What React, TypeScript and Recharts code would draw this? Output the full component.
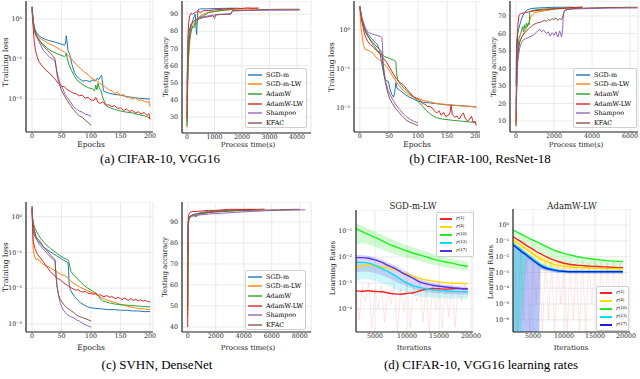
import React from 'react';
import { ComposedChart, Line, Area, XAxis, YAxis, CartesianGrid } from 'recharts';

type Pt = [number, number];

const optNames = ['SGD-m', 'SGD-m-LW', 'AdamW', 'AdamW-LW', 'Shampoo', 'KFAC'];
const optColors = ['#1f77b4', '#ff7f0e', '#2ca02c', '#d62728', '#9467bd', '#8c564b'];

// (a) CIFAR-10, VGG16 — training loss vs epoch
const a1Sgd: Pt[] = [[0,2.0],[2,0.9],[5,0.55],[8,0.45],[12,0.38],[18,0.33],[25,0.3],[32,0.28],[40,0.26],[48,0.24],[55,0.22],[57,0.25],[58,0.38],[59,0.3],[61,0.16],[64,0.13],[68,0.07],[72,0.045],[76,0.037],[80,0.032],[86,0.028],[92,0.029],[98,0.027],[103,0.03],[107,0.028],[110,0.033],[113,0.03],[116,0.037],[118,0.039],[119,0.03],[121,0.016],[125,0.015],[130,0.014],[140,0.013],[150,0.0125],[160,0.0115],[170,0.011],[180,0.0105],[190,0.0102],[200,0.01]];
const a1SgdLw: Pt[] = [[0,2.0],[2,0.8],[5,0.5],[8,0.4],[12,0.34],[18,0.3],[25,0.26],[32,0.23],[40,0.2],[48,0.17],[55,0.15],[62,0.12],[68,0.095],[75,0.072],[82,0.058],[88,0.048],[95,0.04],[100,0.034],[106,0.03],[112,0.027],[118,0.023],[124,0.02],[130,0.017],[136,0.016],[140,0.0135],[145,0.015],[150,0.012],[155,0.013],[160,0.011],[165,0.0115],[170,0.0098],[175,0.011],[180,0.0092],[185,0.0095],[190,0.0088],[195,0.0082],[198,0.009],[200,0.0065]];
const a1Adamw: Pt[] = [[0,2.0],[2,0.8],[5,0.5],[8,0.38],[12,0.3],[18,0.24],[25,0.19],[32,0.16],[40,0.14],[48,0.125],[55,0.115],[57,0.12],[58,0.14],[60,0.1],[63,0.07],[66,0.055],[70,0.042],[74,0.033],[78,0.028],[84,0.024],[90,0.021],[96,0.019],[102,0.018],[106,0.016],[108,0.022],[110,0.017],[112,0.025],[114,0.019],[117,0.016],[119,0.012],[122,0.009],[126,0.0068],[130,0.0062],[135,0.0058],[140,0.0055],[145,0.0052],[150,0.005],[160,0.0047],[170,0.0045],[180,0.0041],[190,0.0038],[195,0.0036],[200,0.0033]];
const a1AdamwLw: Pt[] = [[0,1.6],[2,0.6],[4,0.25],[6,0.16],[9,0.11],[12,0.085],[16,0.07],[20,0.06],[25,0.05],[30,0.044],[35,0.036],[40,0.03],[45,0.024],[50,0.021],[55,0.02],[60,0.017],[65,0.0155],[70,0.014],[75,0.0135],[80,0.012],[85,0.0125],[90,0.0105],[95,0.011],[100,0.0095],[105,0.0092],[108,0.011],[112,0.0082],[116,0.0078],[120,0.0085],[125,0.007],[130,0.0072],[135,0.0064],[140,0.0068],[145,0.0058],[150,0.006],[155,0.0052],[160,0.0056],[165,0.0049],[170,0.0052],[175,0.0045],[180,0.0048],[185,0.0042],[190,0.0046],[195,0.0039],[198,0.0043],[200,0.0031]];
const a1Shampoo: Pt[] = [[0,2.0],[2,0.8],[5,0.45],[8,0.35],[12,0.27],[16,0.2],[20,0.16],[25,0.13],[30,0.11],[35,0.1],[39,0.085],[42,0.05],[45,0.033],[48,0.024],[52,0.018],[56,0.013],[60,0.011],[65,0.0085],[70,0.0065],[75,0.0056],[80,0.005],[85,0.0047],[90,0.0042],[95,0.004],[100,0.0037]];
const a1Kfac: Pt[] = [[0,2.0],[2,0.8],[5,0.45],[8,0.36],[12,0.3],[18,0.22],[25,0.17],[30,0.145],[35,0.12],[39,0.1],[41,0.06],[43,0.035],[46,0.025],[50,0.016],[55,0.012],[60,0.009],[65,0.007],[70,0.0055],[75,0.0045],[80,0.0038],[85,0.0035],[90,0.003],[95,0.0026],[100,0.0022]];

// (a) testing accuracy vs process time
const a2Sgd: Pt[] = [[0,27],[20,50],[50,68],[100,78],[150,83],[200,86],[250,88],[300,90],[330,82],[350,78],[370,86],[400,92.5],[500,93],[700,93],[1000,93.2],[1300,93.3],[1600,93.4],[1900,93.4]];
const a2SgdLw: Pt[] = [[0,24],[20,45],[50,62],[100,74],[150,80],[200,83],[300,86],[400,88],[500,89],[600,90],[800,91],[1000,91.5],[1200,92],[1500,92.5],[1800,93],[2200,93.2],[2600,93.4]];
const a2Adamw: Pt[] = [[0,25],[20,50],[50,65],[100,76],[150,80],[200,83],[250,82],[300,85],[350,84],[400,87],[500,88.5],[600,89],[700,90],[800,91],[1000,91.5],[1200,92],[1400,92.3],[1700,92.8]];
const a2AdamwLw: Pt[] = [[0,29],[10,45],[30,75],[60,85],[100,89],[150,90.5],[200,90],[300,91],[400,91.5],[500,91],[600,92],[800,92],[1000,92.5],[1200,92.6],[1400,93],[1600,93.2],[1800,93],[2000,93.3],[2200,93.6],[2400,93.4],[2600,93.5]];
const a2Shampoo: Pt[] = [[0,48],[30,70],[80,80],[150,84],[250,86],[400,87.5],[600,88.5],[800,89],[1000,89.5],[1200,89.8],[1400,90],[1600,90.2],[1650,91.8],[2000,92],[2500,92.1],[3000,92.2],[3500,92.2],[4100,92.3]];
const a2Kfac: Pt[] = [[0,40],[30,68],[80,80],[150,84],[250,86],[400,87],[600,88],[800,88.5],[950,89],[1000,87.5],[1050,89.5],[1300,89.8],[1600,90],[1650,92],[2000,92.3],[2500,92.5],[3000,92.7],[3500,92.8],[4100,92.8]];

// (b) CIFAR-100, ResNet-18 — training loss
const b1Sgd: Pt[] = [[0,4],[3,2],[6,1.3],[10,0.95],[15,0.75],[20,0.6],[25,0.5],[30,0.42],[34,0.3],[37,0.16],[40,0.09],[43,0.055],[46,0.05],[49,0.048],[52,0.03],[55,0.022],[58,0.019],[60,0.025],[62,0.045],[64,0.032],[68,0.029],[72,0.026],[78,0.022],[85,0.019],[92,0.017],[100,0.015],[110,0.014],[120,0.0135],[130,0.013],[140,0.0125],[150,0.012],[160,0.0118],[170,0.0115],[180,0.0112],[190,0.011],[200,0.0106]];
const b1SgdLw: Pt[] = [[0,3.5],[2,1.2],[4,0.7],[6,0.42],[9,0.32],[14,0.3],[18,0.28],[23,0.25],[28,0.2],[34,0.17],[40,0.14],[46,0.115],[52,0.085],[57,0.063],[63,0.046],[69,0.035],[75,0.028],[80,0.024],[86,0.021],[92,0.019],[98,0.0175],[103,0.017],[110,0.0155],[120,0.0145],[132,0.013],[145,0.0125],[160,0.0118],[175,0.0113],[190,0.011],[200,0.0107]];
const b1Adamw: Pt[] = [[0,4],[3,2.2],[6,1.4],[10,0.95],[15,0.65],[20,0.48],[25,0.38],[30,0.3],[35,0.25],[40,0.22],[45,0.2],[50,0.19],[55,0.175],[60,0.165],[62,0.15],[63,0.08],[65,0.052],[70,0.04],[75,0.033],[80,0.028],[86,0.023],[92,0.0195],[100,0.015],[108,0.011],[115,0.0085],[122,0.0068],[132,0.0056],[142,0.0052],[152,0.005],[162,0.0048],[175,0.0046],[188,0.0044],[200,0.0043]];
const b1AdamwLw: Pt[] = [[0,4],[3,1.8],[6,1.1],[9,0.7],[14,0.5],[18,0.42],[23,0.37],[28,0.3],[34,0.25],[40,0.19],[46,0.15],[51,0.11],[57,0.078],[63,0.055],[69,0.045],[75,0.039],[81,0.03],[86,0.025],[92,0.0195],[97,0.018],[103,0.016],[108,0.013],[112,0.0125],[116,0.011],[121,0.0108],[125,0.0098],[128,0.0085],[132,0.0074],[136,0.0085],[140,0.0065],[144,0.0078],[148,0.006],[152,0.0065],[155,0.0075],[157,0.012],[159,0.0068],[163,0.0058],[167,0.0062],[171,0.0052],[175,0.0066],[178,0.0075],[181,0.0055],[185,0.0046],[189,0.0052],[192,0.0062],[195,0.0042],[198,0.0046],[200,0.0036]];
const b1Shampoo: Pt[] = [[0,4],[3,2.2],[6,1.6],[10,1.1],[15,0.85],[20,0.8],[25,0.76],[30,0.72],[35,0.68],[38,0.64],[39,0.4],[40,0.15],[42,0.08],[45,0.045],[48,0.03],[52,0.022],[57,0.016],[62,0.012],[69,0.009],[75,0.007],[80,0.006],[86,0.0052],[92,0.0046],[96,0.0044],[100,0.0042]];
const b1Kfac: Pt[] = [[0,4],[3,2],[6,1.3],[10,0.85],[15,0.65],[20,0.52],[25,0.43],[30,0.36],[35,0.3],[38,0.26],[40,0.12],[42,0.07],[44,0.045],[47,0.028],[51,0.018],[56,0.013],[62,0.0095],[68,0.0075],[74,0.006],[80,0.0049],[86,0.0043],[92,0.004],[96,0.0037],[100,0.0036]];

// (b) testing accuracy
const b2Sgd: Pt[] = [[0,30],[30,55],[80,60],[150,63],[250,67],[350,70],[450,72],[600,73.5],[800,74.3],[1000,74.5],[1500,74.8],[2000,75],[2500,75],[3000,75.1]];
const b2SgdLw: Pt[] = [[0,10],[50,40],[100,50],[200,56],[300,58],[400,60],[500,62],[600,64],[700,67],[800,70],[1000,72],[1250,72.5],[1500,73],[2000,74],[2500,74.5],[3000,75]];
const b2Adamw: Pt[] = [[0,8],[60,40],[150,57],[250,60],[300,62],[350,64],[400,61],[450,65],[500,63],[550,66],[600,64],[650,66],[700,65],[720,72],[800,73],[1000,73.5],[1500,74],[2000,74.3],[2500,74.5],[3000,74.8],[3500,75]];
const b2AdamwLw: Pt[] = [[0,7],[30,30],[60,50],[100,65],[150,70],[200,71],[300,71.5],[500,72],[700,72.5],[1000,73],[1500,73.6],[2000,74],[2500,74.4],[3000,74.8],[3500,75.2]];
const b2Shampoo: Pt[] = [[0,15],[50,35],[100,45],[200,52],[300,55],[400,56.5],[500,57],[700,58],[900,59],[1100,61],[1250,62.5],[1350,61],[1450,62],[1600,60],[1700,61],[1800,58.5],[1900,60.5],[2000,59],[2100,61],[2200,58],[2300,61.5],[2400,58],[2450,62],[2500,72],[2600,73.5],[3000,74],[3500,74.2],[4000,74.3],[5000,74.5],[6000,74.6],[6400,74.6]];
const b2Kfac: Pt[] = [[0,20],[50,40],[100,50],[200,55],[300,58],[500,61],[700,63],[900,65],[1100,66],[1300,66.5],[1500,67.5],[1600,67],[1700,68],[1800,67.5],[1900,68.5],[2000,68],[2100,69],[2200,67.5],[2300,68.5],[2400,68],[2450,69],[2550,73],[2700,73.8],[3000,74.3],[3500,74.5],[4000,74.7],[5000,74.9],[6000,75],[6400,75]];

// (c) SVHN, DenseNet — training loss
const c1Sgd: Pt[] = [[0,1.7],[1,0.7],[2,0.39],[5,0.28],[9,0.22],[14,0.18],[20,0.14],[26,0.12],[31,0.105],[37,0.09],[43,0.078],[48,0.07],[53,0.062],[58,0.055],[61,0.052],[62,0.03],[63,0.0125],[65,0.009],[68,0.0073],[72,0.0058],[77,0.0047],[82,0.0039],[88,0.0034],[94,0.003],[100,0.0028],[110,0.0027],[120,0.0026],[130,0.0025],[140,0.0025],[150,0.0024],[160,0.0024],[170,0.0023],[180,0.0023],[190,0.0022],[200,0.0022]];
const c1SgdLw: Pt[] = [[0,1.7],[1,0.5],[2,0.12],[4,0.08],[6,0.065],[8,0.062],[10,0.068],[13,0.058],[16,0.05],[20,0.046],[25,0.042],[31,0.037],[37,0.032],[43,0.028],[50,0.024],[56,0.022],[59,0.021],[65,0.016],[70,0.014],[76,0.012],[82,0.0105],[88,0.0095],[94,0.0085],[100,0.0076],[105,0.0072],[110,0.0064],[116,0.0056],[122,0.005],[128,0.0046],[133,0.0043],[140,0.004],[148,0.0036],[155,0.0033],[162,0.0031],[170,0.0029],[180,0.0027],[190,0.0026],[200,0.0025]];
const c1Adamw: Pt[] = [[0,1.7],[1,0.9],[3,0.6],[5,0.48],[9,0.35],[13,0.27],[19,0.2],[25,0.16],[31,0.13],[37,0.11],[43,0.092],[48,0.08],[53,0.072],[59,0.064],[62,0.06],[64,0.04],[66,0.029],[70,0.024],[76,0.019],[82,0.015],[88,0.012],[94,0.0102],[99,0.009],[105,0.0078],[110,0.0068],[114,0.0058],[116,0.0049],[120,0.0044],[126,0.0041],[133,0.0038],[140,0.0036],[145,0.0035],[155,0.0034],[165,0.0033],[175,0.0032],[185,0.0031],[195,0.003],[200,0.003]];
const c1AdamwLw: Pt[] = [[0,1.7],[1,0.5],[2,0.2],[5,0.13],[9,0.09],[14,0.07],[19,0.055],[25,0.04],[31,0.029],[37,0.023],[43,0.019],[48,0.017],[54,0.014],[60,0.012],[65,0.0105],[70,0.0095],[74,0.0088],[78,0.009],[82,0.0082],[86,0.0077],[90,0.0081],[94,0.0073],[99,0.0071],[104,0.0067],[108,0.0072],[112,0.0063],[115,0.0066],[119,0.006],[122,0.0058],[127,0.0062],[132,0.0055],[135,0.0059],[139,0.0053],[142,0.0051],[146,0.0056],[150,0.005],[153,0.0048],[157,0.0053],[161,0.0047],[164,0.0046],[168,0.0051],[172,0.0045],[176,0.0049],[180,0.0044],[184,0.0047],[188,0.0043],[192,0.0046],[196,0.0042],[200,0.0041]];
const c1Shampoo: Pt[] = [[0,2],[1,0.9],[3,0.5],[7,0.25],[12,0.17],[18,0.13],[25,0.096],[31,0.075],[36,0.063],[39,0.056],[40,0.035],[42,0.0125],[45,0.006],[48,0.0037],[52,0.0026],[56,0.0021],[60,0.0018],[65,0.0016],[70,0.0015],[75,0.0013],[80,0.0012],[85,0.00105],[90,0.00095],[95,0.00088],[100,0.0008]];
const c1Kfac: Pt[] = [[0,2],[1,0.8],[3,0.45],[7,0.27],[14,0.2],[20,0.14],[26,0.11],[31,0.087],[36,0.07],[39,0.063],[40,0.03],[42,0.0125],[45,0.0065],[48,0.0048],[53,0.0036],[59,0.0028],[65,0.0024],[70,0.0021],[75,0.0018],[80,0.0016],[85,0.0015],[90,0.0014],[95,0.0013],[100,0.0012]];

// (c) testing accuracy
const c2Sgd: Pt[] = [[0,50],[30,88],[80,92],[200,93],[400,93.5],[700,94],[1000,94.5],[1500,95],[2000,95.2],[3000,95.5],[4000,95.8],[4500,96]];
const c2SgdLw: Pt[] = [[0,45],[30,85],[80,91],[200,92.5],[400,93],[700,93.5],[1000,94],[1500,94.5],[2000,95],[3000,95.3],[4000,95.6],[5000,95.8]];
const c2Adamw: Pt[] = [[0,48],[30,86],[80,91.5],[200,92.5],[400,93],[600,92.5],[800,93.5],[1000,94],[1500,94.5],[2000,95],[3000,95.4],[4000,95.7],[4800,95.9]];
const c2AdamwLw: Pt[] = [[0,40],[20,80],[50,93],[150,94.5],[300,95],[600,95],[1000,95.2],[1500,95.5],[2000,95.5],[2500,95.8],[3000,96],[4000,96],[5000,96],[5500,96.1]];
const c2Shampoo: Pt[] = [[0,80],[40,91],[150,92.5],[400,93],[800,93.3],[1500,93.8],[2500,94.2],[3500,94.6],[4500,95],[5500,95.3],[6500,95.5],[7500,95.6],[8400,95.8]];
const c2Kfac: Pt[] = [[0,75],[40,90],[150,92.5],[400,93.5],[800,94],[1500,94.5],[2500,95],[3500,95.3],[4500,95.5],[5500,95.7],[6500,95.8],[7500,96],[8000,96]];

// (d) learning rates, SGD-m-LW
const lrNames = ['(1)', '(4)', '(10)', '(13)', '(17)'];
const d1Colors = ['#ff2020', '#ffd700', '#22ee22', '#00e0f0', '#5533ee'];
const d2Colors = ['#ff2020', '#ffd700', '#22ee22', '#00e0f0', '#1a1aee'];
const d1Iter = [2000, 3000, 4000, 5000, 6000, 7000, 8000, 9000, 10000, 11000, 12000, 13000, 14000, 15000, 16000, 17000, 18000, 19000, 19500];
const d1Red = [0.0005, 0.00048, 0.0005, 0.00047, 0.00046, 0.00042, 0.00038, 0.00037, 0.0004, 0.00042, 0.0005, 0.00058, 0.00062, 0.0006, 0.00058, 0.0006, 0.00061, 0.0006, 0.0006];
const d1Yellow = [0.0037, 0.0046, 0.0049, 0.0046, 0.0042, 0.0038, 0.0033, 0.0027, 0.0022, 0.0018, 0.0015, 0.0013, 0.0012, 0.0011, 0.00103, 0.00099, 0.00097, 0.00095, 0.00095];
const d1Green = [0.125, 0.095, 0.073, 0.057, 0.044, 0.033, 0.026, 0.021, 0.017, 0.014, 0.012, 0.0102, 0.0085, 0.0073, 0.0064, 0.0058, 0.0051, 0.0045, 0.0043];
const d1Cyan = [0.0063, 0.0062, 0.0058, 0.0048, 0.0037, 0.0028, 0.002, 0.0014, 0.001, 0.00078, 0.00068, 0.0006, 0.00055, 0.00052, 0.0005, 0.00048, 0.00047, 0.00046, 0.00046];
const d1Blue = [0.0095, 0.0095, 0.009, 0.0078, 0.0063, 0.0048, 0.0037, 0.0027, 0.002, 0.0015, 0.0011, 0.00092, 0.00082, 0.00075, 0.0007, 0.00066, 0.00063, 0.0006, 0.0006];
const d1GreenHi = [0.2, 0.16, 0.12, 0.095, 0.075, 0.056, 0.044, 0.035, 0.028, 0.023, 0.019, 0.016, 0.013, 0.011, 0.0096, 0.0086, 0.0076, 0.0068, 0.0064];
const d1GreenLo = [0.03, 0.034, 0.03, 0.025, 0.02, 0.016, 0.013, 0.011, 0.0095, 0.008, 0.0068, 0.0058, 0.005, 0.0044, 0.004, 0.0036, 0.0033, 0.003, 0.003];
const d1BlueHi = [0.012, 0.012, 0.0112, 0.0098, 0.008, 0.0062, 0.0048, 0.0036, 0.0027, 0.002, 0.0015, 0.0012, 0.001, 0.00092, 0.00086, 0.0008, 0.00076, 0.00074, 0.00072];
const d1BlueLo = [0.0025, 0.0028, 0.0027, 0.0024, 0.002, 0.0016, 0.0012, 0.00095, 0.00075, 0.0006, 0.0005, 0.00045, 0.00042, 0.0004, 0.00038, 0.00037, 0.00036, 0.00036, 0.00036];
const d1CyanLo = [0.0012, 0.0014, 0.0014, 0.0012, 0.001, 0.0008, 0.0006, 0.0005, 0.0004, 0.00033, 0.0003, 0.00028, 0.00027, 0.00026, 0.00026, 0.00025, 0.00025, 0.00025, 0.00025];
const noiseIter = [2000, 2500, 3000, 3500, 4000, 4500, 5000, 5500, 6000, 6500, 7000, 7500, 8000, 8500, 9000, 9500, 10000, 10500, 11000, 11500, 12000, 12500, 13000, 13500, 14000, 14500, 15000, 15500, 16000, 16500, 17000, 17500, 18000, 18500, 19000, 19500];
const d1RedNoise = [0.0009, 0.00004, 0.0007, 0.0002, 0.001, 0.00002, 0.0006, 0.0001, 0.0008, 0.00003, 0.0005, 0.00015, 0.0009, 0.00001, 0.0006, 0.00008, 0.0012, 0.00002, 0.0007, 0.0002, 0.0011, 0.00003, 0.0008, 0.00001, 0.0009, 0.0001, 0.0012, 0.00002, 0.0008, 0.00005, 0.001, 0.00002, 0.0007, 0.0002, 0.0009, 0.0003];

// (d) learning rates, AdamW-LW
const d2Iter = [1800, 3000, 4000, 5000, 6000, 6200, 7000, 8000, 9000, 10000, 11000, 12000, 13000, 14000, 15000, 16000, 17000, 18000, 19000, 19500];
const d2Red = [0.18, 0.091, 0.05, 0.029, 0.0166, 0.0152, 0.0105, 0.0069, 0.005, 0.0038, 0.0032, 0.0029, 0.0027, 0.0025, 0.0024, 0.0023, 0.0022, 0.0021, 0.002, 0.002];
const d2Yellow = [0.11, 0.052, 0.028, 0.015, 0.0083, 0.0076, 0.0054, 0.0036, 0.0028, 0.0025, 0.0022, 0.0021, 0.002, 0.0019, 0.0018, 0.0018, 0.0017, 0.0017, 0.0017, 0.0017];
const d2Green = [0.48, 0.275, 0.17, 0.112, 0.072, 0.066, 0.047, 0.03, 0.021, 0.016, 0.0126, 0.0102, 0.0087, 0.0076, 0.0068, 0.0062, 0.0056, 0.0052, 0.005, 0.0049];
const d2Cyan = [0.069, 0.03, 0.015, 0.0076, 0.0038, 0.0034, 0.0023, 0.0017, 0.0014, 0.0013, 0.0012, 0.0012, 0.0012, 0.0012, 0.0012, 0.0012, 0.0012, 0.0012, 0.0012, 0.0012];
const d2Blue = [0.054, 0.023, 0.0117, 0.0059, 0.003, 0.0027, 0.0019, 0.0015, 0.00126, 0.00117, 0.0011, 0.0011, 0.0011, 0.0011, 0.0011, 0.0011, 0.0011, 0.0011, 0.0011, 0.0011];
const d2BlueLo = [1e-7, 1e-7, 1e-7, 1e-7, 1e-7, 0.0016, 0.0013, 0.0011, 0.00095, 0.0009, 0.00085, 0.00085, 0.00085, 0.00085, 0.00085, 0.00085, 0.00085, 0.00085, 0.00085, 0.00085];
const d2CyanLo = [1e-7, 1e-7, 0.008, 0.004, 0.002, 0.0018, 0.0015, 0.0012, 0.001, 0.00095, 0.0009, 0.0009, 0.0009, 0.0009, 0.0009, 0.0009, 0.0009, 0.0009, 0.0009, 0.0009];
const d2RedNoise = [0.03, 1e-7, 0.02, 1e-6, 0.015, 1e-7, 0.01, 1e-5, 0.008, 1e-7, 0.006, 1e-6, 0.005, 1e-7, 0.006, 1e-5, 0.004, 1e-7, 0.005, 1e-6, 0.004, 1e-7, 0.006, 1e-7, 0.004, 1e-5, 0.005, 1e-7, 0.0045, 1e-6, 0.004, 1e-7, 0.005, 1e-6, 0.004, 1e-4];

const supMap: Record<string, string> = { '-': '⁻', '0': '⁰', '1': '¹', '2': '²', '3': '³', '4': '⁴', '5': '⁵', '6': '⁶' };
const pow10 = (v: number) => '10' + String(Math.round(Math.log10(v))).split('').map((c) => supMap[c]).join('');

const tickStyle = { fontSize: 6.3, fill: '#262626', fontFamily: 'DejaVu Serif' };
const spine = { stroke: '#262626', strokeWidth: 1.2 };

type LineDef = { pts: Pt[]; color: string; width?: number; opacity?: number; smooth?: boolean };
type BandDef = { xs: number[]; lo: number[]; hi: number[]; color: string; opacity: number };

function Plot(p: {
  x: number; y: number; w: number; h: number; yw: number; clipW?: number;
  xDomain: [number, number]; xTicks: number[]; yDomain: [number, number]; yTicks: number[];
  log?: boolean; lines: LineDef[]; bands?: BandDef[];
}) {
  const rm = 10;
  const cw = p.w + p.yw + rm;
  const ch = p.h + 12;
  return (
    <div style={{ position: 'absolute', left: p.x - p.yw, top: p.y, width: p.clipW ?? cw, height: ch, overflow: 'hidden' }}>
      <ComposedChart width={cw} height={ch} margin={{ top: 0, right: rm, bottom: 0, left: 0 }}>
        <CartesianGrid stroke="#e4e4e4" strokeWidth={0.8} />
        <XAxis type="number" dataKey="x" domain={p.xDomain} ticks={p.xTicks} allowDataOverflow interval={0}
          height={12} tickLine={false} tickSize={0} tickMargin={1.5} axisLine={spine} tick={tickStyle} />
        <YAxis type="number" scale={p.log ? 'log' : 'linear'} domain={p.yDomain} ticks={p.yTicks} allowDataOverflow
          interval={0} width={p.yw} tickLine={false} tickSize={2} tickMargin={2} axisLine={spine} tick={tickStyle}
          tickFormatter={p.log ? pow10 : undefined} />
        {(p.bands ?? []).map((b, i) => (
          <Area key={'b' + i} data={b.xs.map((x, j) => ({ x, r: [b.lo[j], b.hi[j]] }))} dataKey="r" type="linear"
            stroke="none" fill={b.color} fillOpacity={b.opacity} isAnimationActive={false} />
        ))}
        {p.lines.map((s, i) => (
          <Line key={'l' + i} data={s.pts.map(([x, y]) => ({ x, y }))} dataKey="y" type={s.smooth ? 'monotone' : 'linear'}
            stroke={s.color} strokeWidth={s.width ?? 1} strokeOpacity={s.opacity ?? 1} dot={false} isAnimationActive={false} />
        ))}
      </ComposedChart>
    </div>
  );
}

const txt = (left: number, top: number, text: string, size: number, extra: React.CSSProperties = {}) => (
  <div style={{ position: 'absolute', left, top, transform: 'translate(-50%, -50%)', fontSize: size, lineHeight: 1, whiteSpace: 'nowrap', color: '#222', ...extra }}>{text}</div>
);
const ylab = (left: number, top: number, text: string, size: number) => (
  <div style={{ position: 'absolute', left, top, transform: 'translate(-50%, -50%) rotate(-90deg)', fontSize: size, lineHeight: 1, whiteSpace: 'nowrap', color: '#222' }}>{text}</div>
);

function OptLegend({ left, top, w }: { left: number; top: number; w: number }) {
  return (
    <div style={{ position: 'absolute', left, top, width: w, height: 60, boxSizing: 'border-box', background: 'rgba(255,255,255,0.85)', border: '0.8px solid #cfcfcf', borderRadius: 2, padding: '1px 0 0 2px' }}>
      {optNames.map((n, i) => (
        <div key={n} style={{ display: 'flex', alignItems: 'center', height: 9.6, fontSize: 6.4, whiteSpace: 'nowrap' }}>
          <div style={{ width: 14, height: 2, flexShrink: 0, background: optColors[i], opacity: 0.7, marginRight: 4 }} />
          <span>{n}</span>
        </div>
      ))}
    </div>
  );
}

function LrLegend({ left, top, w, colors }: { left: number; top: number; w: number; colors: string[] }) {
  return (
    <div style={{ position: 'absolute', left, top, width: w, boxSizing: 'border-box', background: 'rgba(255,255,255,0.9)', border: '0.6px solid #d0d0d0', borderRadius: 2, padding: '2px 0 1px 3px' }}>
      {lrNames.map((n, i) => (
        <div key={n} style={{ display: 'flex', alignItems: 'center', height: 8, lineHeight: 1, whiteSpace: 'nowrap' }}>
          <div style={{ width: 12, height: 2, flexShrink: 0, background: colors[i], marginRight: 4 }} />
          <span style={{ fontStyle: 'italic', fontSize: 5.5 }}>r</span>
          <span style={{ fontSize: 4, position: 'relative', top: -1.5 }}>{n}</span>
        </div>
      ))}
    </div>
  );
}

const opt = (list: Pt[][]): LineDef[] => list.map((pts, i) => ({ pts, color: optColors[i] }));
const zipPts = (xs: number[], ys: number[]): Pt[] => xs.map((x, i) => [x, ys[i]]);

export default function App() {
  const d1Lines: LineDef[] = [
    { pts: zipPts(noiseIter, d1RedNoise), color: '#ff4040', width: 0.7, opacity: 0.2 },
    ...[d1Red, d1Yellow, d1Green, d1Cyan, d1Blue].map((ys, i) => ({ pts: zipPts(d1Iter, ys), color: d1Colors[i], width: 1.4, smooth: true })),
  ];
  const d2Lines: LineDef[] = [
    { pts: zipPts(noiseIter, d2RedNoise), color: '#ff4040', width: 0.7, opacity: 0.18 },
    ...[d2Red, d2Yellow, d2Green, d2Cyan, d2Blue].map((ys, i) => ({ pts: zipPts(d2Iter, ys), color: d2Colors[i], width: 1.4, smooth: true })),
  ];
  const cap = { fontFamily: 'Liberation Serif', color: '#000' };
  return (
    <div style={{ position: 'absolute', left: 0, top: 0, width: 640, height: 379, background: '#fff', fontFamily: 'DejaVu Serif', overflow: 'hidden' }}>
      {/* (a) */}
      <Plot x={26} y={1} w={127} h={131} yw={26} xDomain={[-10.2, 205]} xTicks={[0, 50, 100, 150, 200]}
        yDomain={[0.0015, 2.8]} yTicks={[0.01, 0.1, 1]} log
        lines={opt([a1Sgd, a1SgdLw, a1Adamw, a1AdamwLw, a1Shampoo, a1Kfac])} />
      <Plot x={182} y={1} w={129} h={132} yw={20} xDomain={[-182, 4509]} xTicks={[0, 1000, 2000, 3000, 4000]}
        yDomain={[20.8, 97.6]} yTicks={[30, 40, 50, 60, 70, 80, 90]}
        lines={opt([a2Sgd, a2SgdLw, a2Adamw, a2AdamwLw, a2Shampoo, a2Kfac])} />
      <OptLegend left={245} top={68} w={62} />
      {ylab(6, 62, 'Training loss', 7.5)}
      {ylab(166, 67, 'Testing accuracy', 7)}
      {txt(91, 145, 'Epochs', 7.5)}
      {txt(248, 145, 'Process time(s)', 7)}
      {txt(160, 158, '(a)  CIFAR-10, VGG16', 13, cap)}

      {/* (b) */}
      <Plot x={354} y={1} w={128} h={131} yw={26} clipW={152} xDomain={[-10, 210]} xTicks={[0, 50, 100, 150, 200]}
        yDomain={[0.00243, 5.5]} yTicks={[0.01, 0.1, 1]} log
        lines={opt([b1Sgd, b1SgdLw, b1Adamw, b1AdamwLw, b1Shampoo, b1Kfac])} />
      <Plot x={510} y={1} w={128} h={131} yw={20} xDomain={[-316, 6421]} xTicks={[0, 2000, 4000, 6000]}
        yDomain={[3.7, 78.6]} yTicks={[10, 20, 30, 40, 50, 60, 70]}
        lines={opt([b2Sgd, b2SgdLw, b2Adamw, b2AdamwLw, b2Shampoo, b2Kfac])} />
      <OptLegend left={573} top={68} w={64} />
      {ylab(332, 67, 'Training loss', 7.5)}
      {ylab(494, 67, 'Testing accuracy', 7)}
      {txt(417, 145, 'Epochs', 7.5)}
      {txt(576, 145, 'Process time(s)', 7)}
      {txt(480, 158, '(b)  CIFAR-100, ResNet-18', 13, cap)}

      {/* (c) */}
      <Plot x={26} y={202} w={127} h={130} yw={26} xDomain={[-10.2, 205]} xTicks={[0, 50, 100, 150, 200]}
        yDomain={[0.00059, 2.6]} yTicks={[0.001, 0.01, 0.1, 1]} log
        lines={opt([c1Sgd, c1SgdLw, c1Adamw, c1AdamwLw, c1Shampoo, c1Kfac])} />
      <Plot x={182} y={202} w={129} h={130} yw={20} xDomain={[-407, 8807]} xTicks={[0, 2000, 4000, 6000, 8000]}
        yDomain={[37.6, 99.5]} yTicks={[40, 50, 60, 70, 80, 90]}
        lines={opt([c2Sgd, c2SgdLw, c2Adamw, c2AdamwLw, c2Shampoo, c2Kfac])} />
      <OptLegend left={245} top={270} w={61} />
      {ylab(6, 267, 'Training loss', 7.5)}
      {ylab(165, 267, 'Testing accuracy', 7)}
      {txt(91, 348, 'Epochs', 7.5)}
      {txt(248, 348, 'Process time(s)', 7)}
      {txt(157, 364, '(c)  SVHN, DenseNet', 13, cap)}

      {/* (d) */}
      <Plot x={356} y={210} w={117} h={122} yw={24} xDomain={[2031, 20312]} xTicks={[5000, 10000, 15000, 20000]}
        yDomain={[1.3e-5, 0.645]} yTicks={[0.0001, 0.001, 0.01, 0.1]} log
        bands={[
          { xs: d1Iter, lo: d1GreenLo, hi: d1GreenHi, color: '#7cf07c', opacity: 0.35 },
          { xs: d1Iter, lo: d1CyanLo, hi: d1Cyan, color: '#5ee6f0', opacity: 0.3 },
          { xs: d1Iter, lo: d1BlueLo, hi: d1BlueHi, color: '#8a78f0', opacity: 0.3 },
        ]}
        lines={d1Lines} />
      <LrLegend left={436} top={212} w={38} colors={d1Colors} />
      {txt(413, 206, 'SGD-m-LW', 8.5)}
      {ylab(333, 268, 'Learning Rates', 7)}
      {txt(414, 348, 'Iterations', 7)}

      <Plot x={513} y={209} w={117} h={123} yw={24} xDomain={[1774, 20645]} xTicks={[5000, 10000, 15000, 20000]}
        yDomain={[1.7e-7, 10.3]} yTicks={[1e-6, 1e-5, 1e-4, 0.001, 0.01, 0.1, 1]} log
        bands={[
          { xs: d2Iter, lo: d2Red, hi: d2Green, color: '#8cf08c', opacity: 0.35 },
          { xs: d2Iter, lo: d2Cyan, hi: d2Red, color: '#ffe866', opacity: 0.45 },
          { xs: d2Iter, lo: d2BlueLo, hi: d2Cyan, color: '#6f8cf5', opacity: 0.5 },
          { xs: d2Iter, lo: d2CyanLo, hi: d2Cyan, color: '#40dcdc', opacity: 0.5 },
        ]}
        lines={d2Lines} />
      <LrLegend left={596} top={286} w={33} colors={d2Colors} />
      {txt(572, 206, 'AdamW-LW', 8.5)}
      {ylab(491, 272, 'Learning Rates', 7)}
      {txt(571, 348, 'Iterations', 7)}
      {txt(481, 364, '(d)  CIFAR-10, VGG16 learning rates', 13, cap)}
    </div>
  );
}
